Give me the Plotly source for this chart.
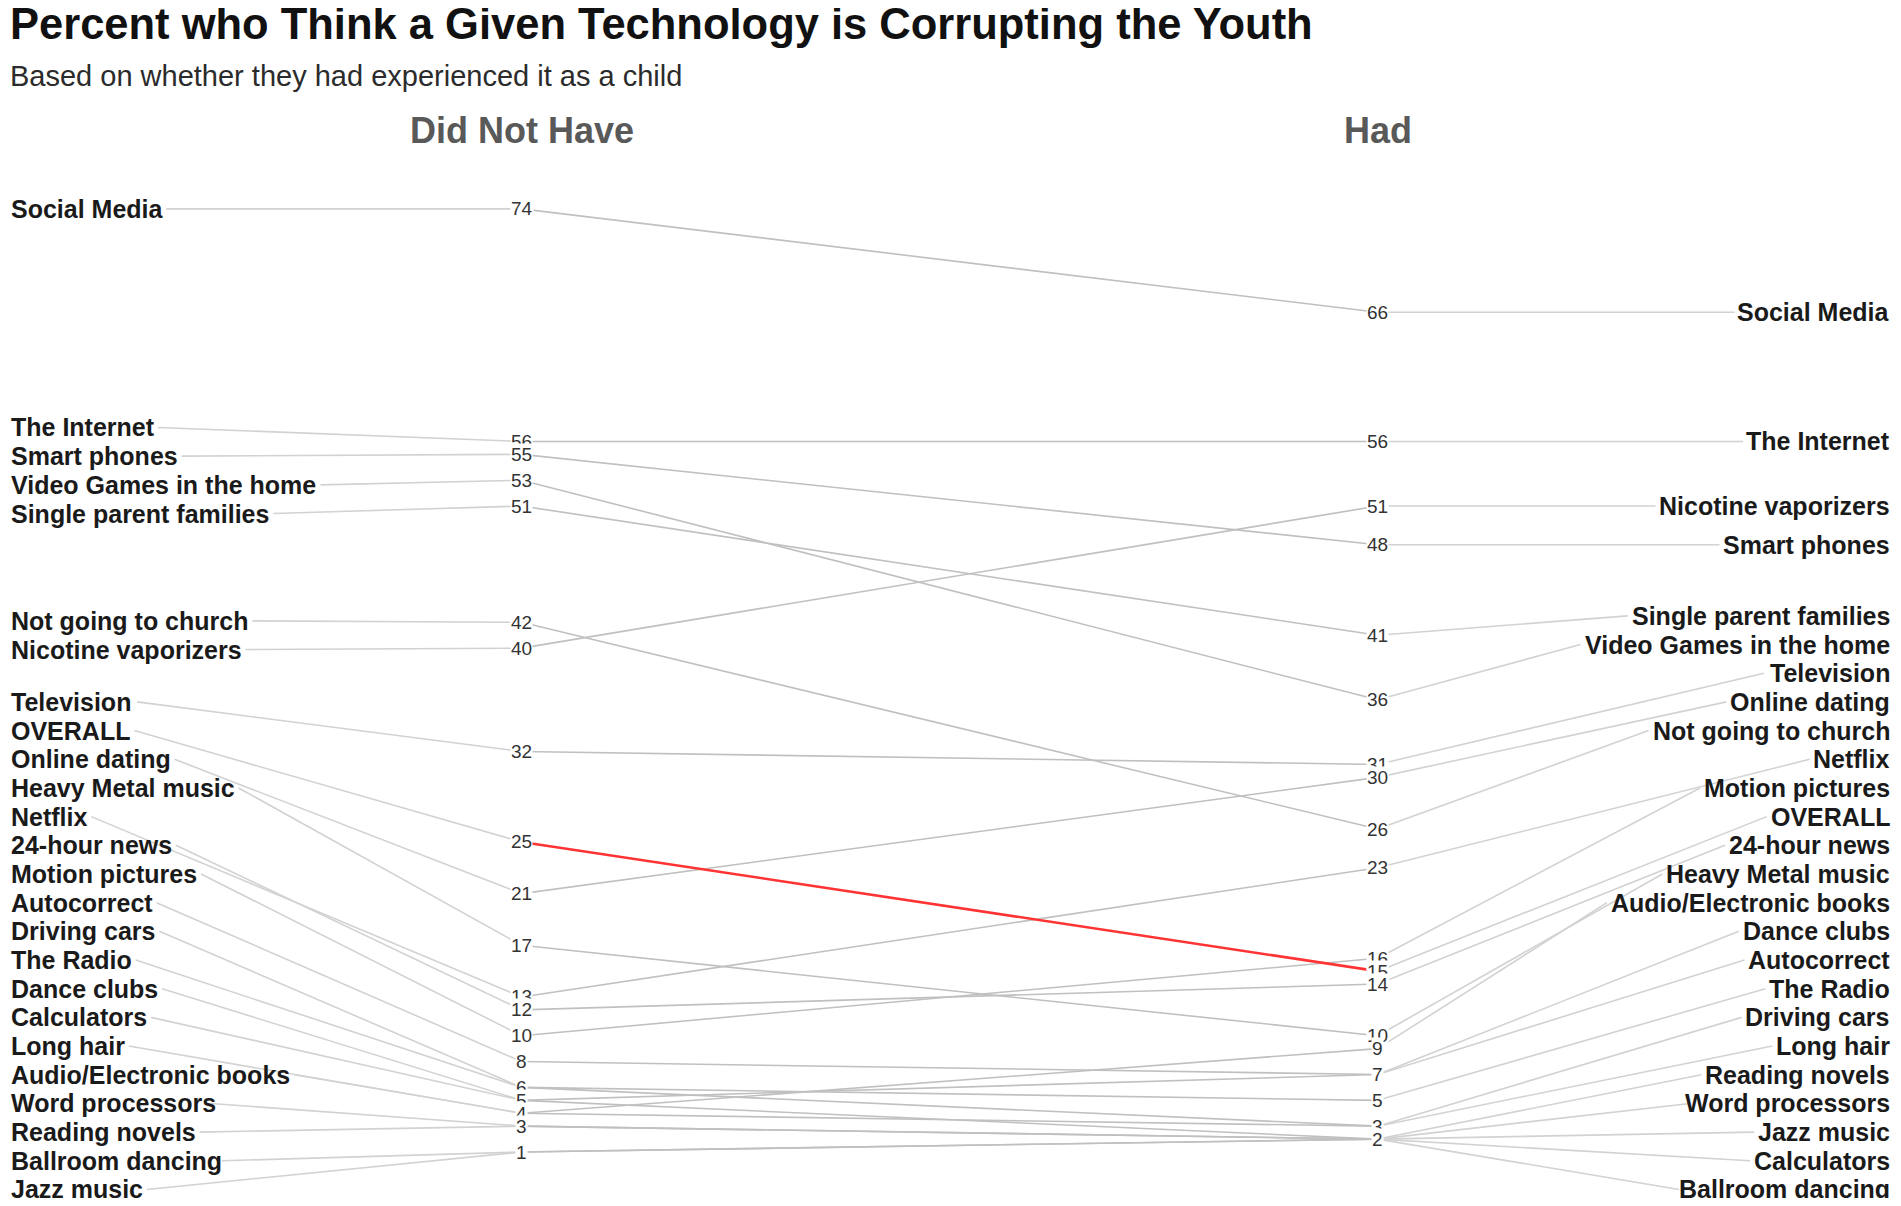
import plotly.graph_objects as go

# Items in the order their labels appear on the left ("Did Not Have") side
items = ["Social Media", "The Internet", "Smart phones", "Video Games in the home",
         "Single parent families", "Not going to church", "Nicotine vaporizers",
         "Television", "OVERALL", "Online dating", "Heavy Metal music", "Netflix",
         "24-hour news", "Motion pictures", "Autocorrect", "Driving cars", "The Radio",
         "Dance clubs", "Calculators", "Long hair", "Audio/Electronic books",
         "Word processors", "Reading novels", "Ballroom dancing", "Jazz music"]
did_not_have = [74, 56, 55, 53, 51, 42, 40, 32, 25, 21, 17, 13, 12, 10, 8,
                6, 6, 5, 5, 4, 4, 3, 3, 1, 1]
had = [66, 56, 48, 36, 41, 26, 51, 31, 15, 30, 10, 23, 14, 16, 7,
       3, 5, 7, 2, 3, 9, 2, 2, 2, 2]
# order of the labels on the right ("Had") side, top to bottom
had_order = ["Social Media", "The Internet", "Nicotine vaporizers", "Smart phones",
             "Single parent families", "Video Games in the home", "Television",
             "Online dating", "Not going to church", "Netflix", "Motion pictures",
             "OVERALL", "24-hour news", "Heavy Metal music", "Audio/Electronic books",
             "Dance clubs", "Autocorrect", "The Radio", "Driving cars", "Long hair",
             "Reading novels", "Word processors", "Jazz music", "Calculators",
             "Ballroom dancing"]
highlight = "OVERALL"
columns = ["Did Not Have", "Had"]

title = "Percent who Think a Given Technology is Corrupting the Youth"
subtitle = "Based on whether they had experienced it as a child"

# the page has an 8px body margin, so the figure is a little smaller than the window
W, H = 1885, 1190
X_RANGE = [0.400, 2.602]
Y_RANGE = [-2.56, 89.55]
PX_X = W / (X_RANGE[1] - X_RANGE[0])
LABEL_SIZE = 25
NUM_SIZE = 19
LEFT_X, RIGHT_X = 0.401, 2.601
GAP = 6 / PX_X

# Arial / Liberation Sans Bold advance widths (per 1000 em)
BOLD_W = {' ': 278, '/': 278, '-': 333, 'A': 722, 'C': 722, 'D': 722, 'E': 667,
          'G': 778, 'H': 722, 'I': 278, 'J': 556, 'L': 611, 'M': 833, 'N': 722,
          'O': 778, 'R': 722, 'S': 667, 'T': 611, 'V': 667,
          'a': 556, 'b': 611, 'c': 556, 'd': 611, 'e': 556, 'f': 333, 'g': 611,
          'h': 611, 'i': 278, 'k': 556, 'l': 278, 'm': 889, 'n': 611, 'o': 611,
          'p': 611, 'r': 389, 's': 556, 't': 333, 'u': 611, 'v': 556, 'w': 778,
          'x': 556, 'y': 556, 'z': 500}


def text_width(s, size):
    return sum(BOLD_W.get(ch, 556) for ch in s) / 1000 * size / PX_X


def spread(vals, gap=2.22, lo=-1.9):
    # simple 1-D label repel: vals are sorted top to bottom
    clusters, pos = [], []
    for v in vals:
        clusters.append([len(pos), 1])
        pos.append(v)
        while True:
            s, n = clusters[-1]
            c = sum(vals[s:s + n]) / n
            p = [c + gap * ((n - 1) / 2 - k) for k in range(n)]
            if p[-1] < lo:
                p = [q + lo - p[-1] for q in p]
            pos[s:s + n] = p
            if len(clusters) > 1:
                ps, pn = clusters[-2]
                if pos[ps + pn - 1] - p[0] < gap:
                    clusters[-2][1] += n
                    clusters.pop()
                    continue
            break
    return pos


left_lab_y = dict(zip(items, spread(did_not_have)))
had_map = dict(zip(items, had))
right_lab_y = dict(zip(had_order, spread([had_map[k] for k in had_order])))

fig = go.Figure()

# label leader segments
sx, sy = [], []
for name, lv, rv in zip(items, did_not_have, had):
    x_end = LEFT_X + text_width(name, LABEL_SIZE) + GAP
    sx += [x_end, 1, None]
    sy += [left_lab_y[name], lv, None]
    x_start = RIGHT_X - text_width(name, LABEL_SIZE) - GAP
    sx += [2, x_start, None]
    sy += [rv, right_lab_y[name], None]
fig.add_trace(go.Scatter(x=sx, y=sy, mode='lines', hoverinfo='skip',
                         line=dict(color='#d2d2d2', width=1.6), showlegend=False))

# slope lines
cx, cy = [], []
for name, lv, rv in zip(items, did_not_have, had):
    if name != highlight:
        cx += [1, 2, None]
        cy += [lv, rv, None]
fig.add_trace(go.Scatter(x=cx, y=cy, mode='lines', hoverinfo='skip',
                         line=dict(color='#c0c0c0', width=1.6), showlegend=False))
hi = items.index(highlight)
fig.add_trace(go.Scatter(x=[1, 2], y=[did_not_have[hi], had[hi]], mode='lines',
                         line=dict(color='#ff3333', width=2.6), showlegend=False))

ann = []
for name in items:
    ann.append(dict(x=LEFT_X, y=left_lab_y[name], text='<b>' + name + '</b>',
                    xanchor='left', yanchor='middle', showarrow=False,
                    font=dict(size=LABEL_SIZE, color='#1a1a1a')))
    ann.append(dict(x=RIGHT_X, y=right_lab_y[name], text='<b>' + name + '</b>',
                    xanchor='right', yanchor='middle', showarrow=False,
                    font=dict(size=LABEL_SIZE, color='#1a1a1a')))

# value labels, higher values first so lower ones sit on top
for col_x, vals in ((1, did_not_have), (2, had)):
    for v in sorted(set(vals), reverse=True):
        ann.append(dict(x=col_x, y=v, text=str(v), showarrow=False,
                        xanchor='center', yanchor='middle', bgcolor='white',
                        borderpad=0, font=dict(size=NUM_SIZE, color='#333333')))

for col_x, col in zip((1, 2), columns):
    ann.append(dict(x=col_x, xref='x', y=1 - 123 / H, yref='paper',
                    text='<b>' + col + '</b>', showarrow=False,
                    xanchor='center', yanchor='middle',
                    font=dict(size=36, color='#595959')))

ann.append(dict(x=0, xref='paper', y=1 - 16 / H, yref='paper',
                text='<b>' + title + '</b>', showarrow=False,
                xanchor='left', yanchor='middle', font=dict(size=43.5, color='#111111')))
ann.append(dict(x=0, xref='paper', y=1 - 68 / H, yref='paper',
                text=subtitle, showarrow=False,
                xanchor='left', yanchor='middle', font=dict(size=29, color='#2b2b2b')))

fig.update_layout(
    width=W, height=H,
    margin=dict(l=0, r=0, t=0, b=0),
    paper_bgcolor='white', plot_bgcolor='white',
    font=dict(family='Liberation Sans, Arial, sans-serif'),
    xaxis=dict(range=X_RANGE, visible=False, fixedrange=True),
    yaxis=dict(range=Y_RANGE, visible=False, fixedrange=True),
    annotations=ann,
    showlegend=False,
)

fig.write_html("out.html")
